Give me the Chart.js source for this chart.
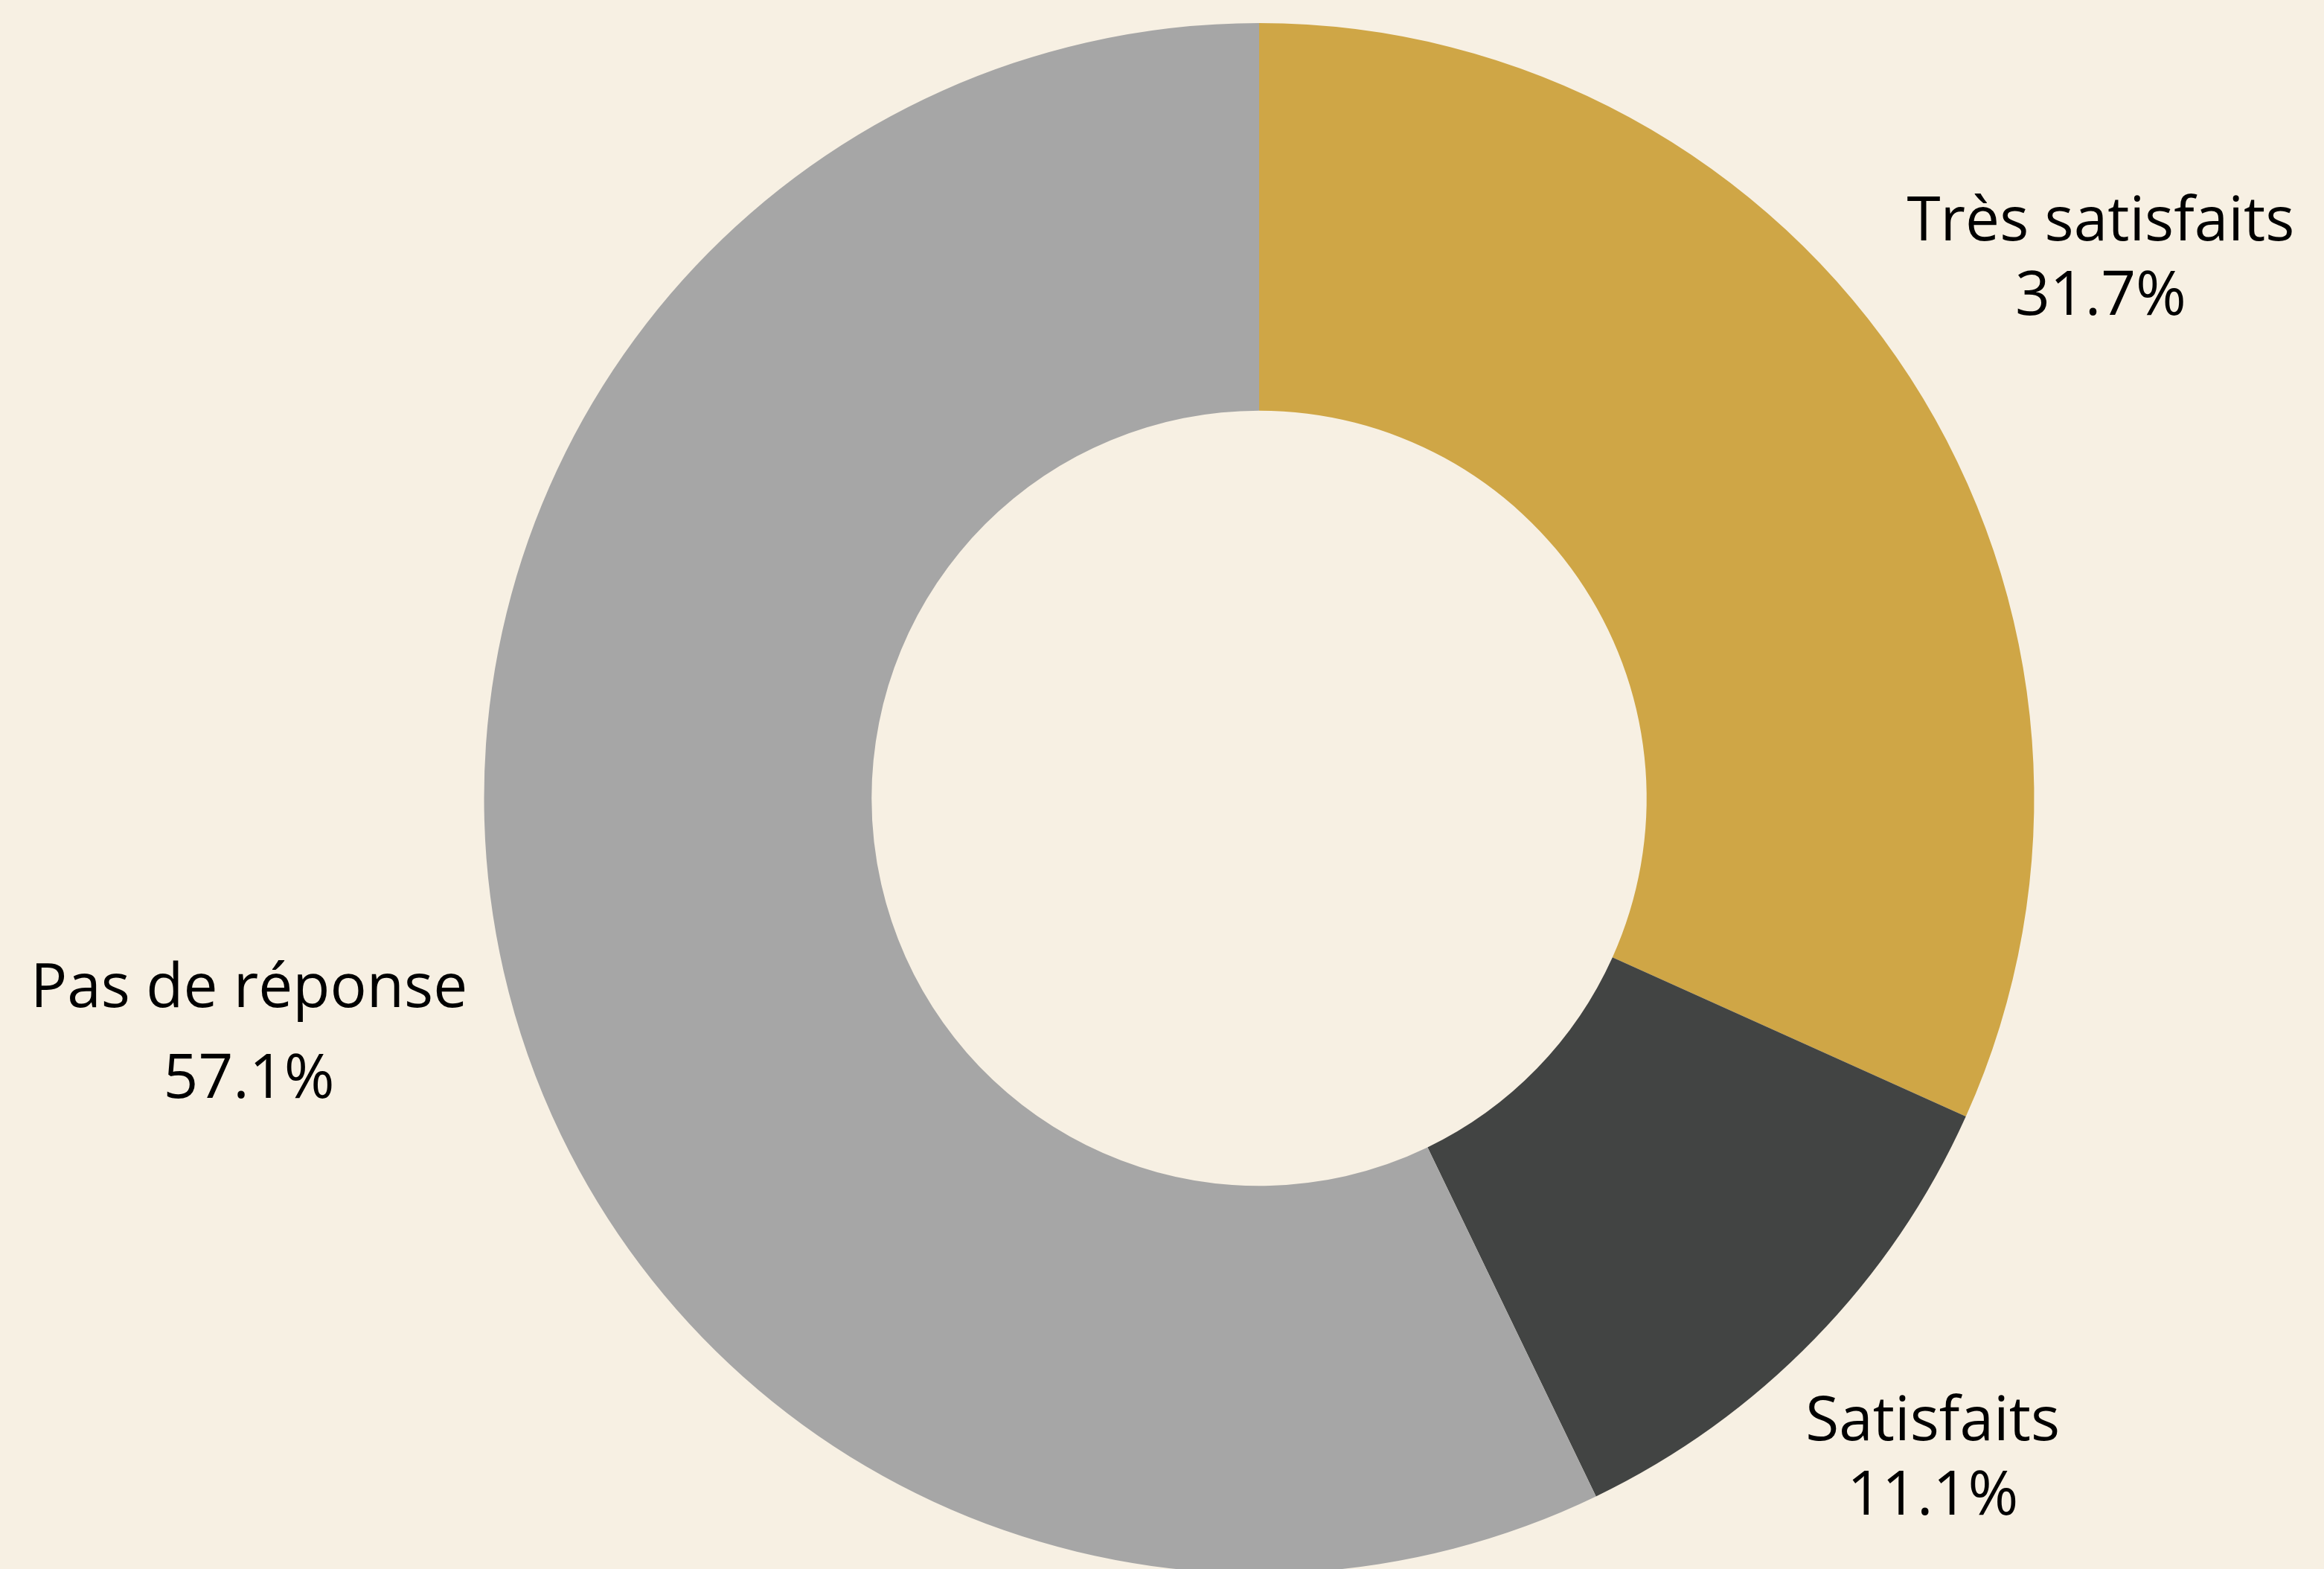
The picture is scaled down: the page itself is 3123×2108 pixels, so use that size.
<!DOCTYPE html>
<html>
<head>
<meta charset="utf-8">
<script src="https://cdn.jsdelivr.net/npm/chart.js@4/dist/chart.umd.min.js"></script>
<style>
  html, body { margin: 0; padding: 0; background: #F7F0E3; overflow: hidden; }
  #wrap { position: relative; width: 3123px; height: 2145px; }
</style>
</head>
<body>
<div id="wrap"><canvas id="c"></canvas></div>
<script>
const categories = ["Très satisfaits", "Satisfaits", "Pas de réponse"];
const values = [31.7, 11.1, 57.1];
const valueLabels = ["31.7%", "11.1%", "57.1%"];
const colors = ["#CFA646", "#424443", "#A6A6A6"];
const labelRadius = [1.293, 1.213, 1.337];
const labelGap = [100, 100, 122];

const labelPlugin = {
  id: 'outsideLabels',
  afterDatasetsDraw(chart) {
    const ctx = chart.ctx;
    const meta = chart.getDatasetMeta(0);
    ctx.save();
    ctx.font = '82px "Open Sans"';
    ctx.fillStyle = '#000000';
    ctx.textAlign = 'center';
    ctx.textBaseline = 'middle';
    meta.data.forEach((arc, i) => {
      const mid = (arc.startAngle + arc.endAngle) / 2;
      const r = arc.outerRadius * labelRadius[i];
      const x = arc.x + Math.cos(mid) * r;
      const y = arc.y + Math.sin(mid) * r;
      ctx.fillText(categories[i], x, y - labelGap[i] / 2 + 8);
      ctx.fillText(valueLabels[i], x, y + labelGap[i] / 2 + 8);
    });
    ctx.restore();
  }
};

new Chart(document.getElementById('c'), {
  type: 'doughnut',
  data: {
    labels: categories,
    datasets: [{
      data: values,
      backgroundColor: colors,
      borderWidth: 0,
      hoverOffset: 0
    }]
  },
  options: {
    responsive: true,
    maintainAspectRatio: false,
    animation: false,
    cutout: '50%',
    layout: { padding: { left: 261, right: 0, top: 31, bottom: 31 } },
    plugins: {
      legend: { display: false },
      tooltip: { enabled: false }
    },
    events: []
  },
  plugins: [labelPlugin]
});
</script>
</body>
</html>
